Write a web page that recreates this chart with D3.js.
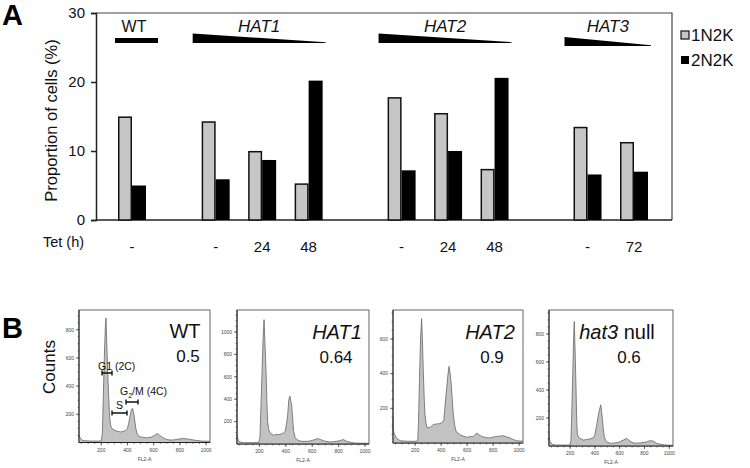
<!DOCTYPE html>
<html><head><meta charset="utf-8">
<script src="https://cdn.jsdelivr.net/npm/d3@7"></script>
<style>
html,body{margin:0;padding:0;background:#fff;}
svg{display:block;font-family:Arial,"Liberation Sans",sans-serif;}
</style></head>
<body>
<svg id="chart" width="750" height="468"></svg>
<script>
// ---------------- DATA ----------------
const categories = ["WT -","HAT1 -","HAT1 24","HAT1 48","HAT2 -","HAT2 24","HAT2 48","HAT3 -","HAT3 72"];
const categoryGroup = ["WT","HAT1","HAT1","HAT1","HAT2","HAT2","HAT2","HAT3","HAT3"];
const tetLabels = ["-","-","24","48","-","24","48","-","72"];
const values1N2K = [14.9,14.2,9.9,5.2,17.7,15.4,7.3,13.4,11.2];
const values2N2K = [5.0,5.9,8.7,20.2,7.2,10.0,20.6,6.6,7.0];
const seriesNames = ["1N2K","2N2K"];
const yTicksA = [0,10,20,30];
const groupNames = ["WT","HAT1","HAT2","HAT3"];

// FACS histograms: [FL2-A channel, counts]
const histWT = [[30,50],[40,30],[55,16],[80,12],[130,10],[180,10],[200,12],[208,60],[215,300],[222,560],[230,800],[236,883],[242,700],[250,480],[258,290],[265,170],[272,120],[280,100],[300,88],[320,80],[345,75],[365,78],[385,85],[400,100],[410,140],[420,190],[430,230],[437,242],[445,220],[453,175],[462,110],[472,65],[490,42],[520,36],[550,33],[580,38],[605,50],[630,64],[645,52],[665,38],[695,22],[730,17],[770,20],[800,26],[830,28],[860,25],[890,20],[930,14],[970,10],[1030,8]];
const histHAT1 = [[30,84],[35,60],[40,30],[55,18],[80,12],[150,12],[195,14],[204,60],[212,350],[220,650],[228,950],[235,1110],[242,900],[250,650],[256,400],[262,200],[270,130],[280,100],[305,78],[325,85],[345,84],[368,90],[385,100],[395,115],[405,180],[414,263],[423,400],[431,427],[438,380],[444,352],[452,220],[459,113],[470,60],[482,40],[500,30],[520,24],[570,24],[600,32],[621,40],[646,48],[665,38],[684,30],[710,22],[734,18],[760,20],[785,24],[810,30],[835,40],[861,24],[899,12],[950,7],[1030,6]];
const histHAT2 = [[30,144],[32,77],[38,58],[55,29],[85,13],[140,10],[200,10],[220,12],[226,120],[234,380],[242,600],[250,717],[256,600],[263,413],[270,260],[276,163],[285,110],[294,87],[315,90],[340,106],[366,110],[390,112],[404,115],[414,125],[422,135],[432,230],[443,317],[452,390],[461,442],[468,410],[476,356],[485,260],[494,163],[505,100],[515,67],[545,48],[570,40],[597,33],[620,36],[648,38],[674,58],[690,48],[712,38],[735,33],[763,29],[795,33],[827,38],[855,40],[879,42],[905,35],[930,29],[955,20],[981,13],[1030,10]];
const histHat3 = [[30,66],[38,31],[55,12],[80,7],[150,7],[200,7],[207,40],[214,250],[222,520],[228,760],[234,889],[240,700],[248,407],[253,200],[258,90],[268,62],[280,54],[307,42],[327,45],[347,49],[368,52],[388,59],[400,80],[414,148],[424,200],[433,242],[447,294],[454,250],[460,195],[468,120],[476,66],[485,45],[495,31],[515,22],[535,19],[560,22],[589,26],[610,34],[629,42],[656,54],[670,46],[683,35],[700,26],[724,19],[760,22],[804,26],[825,32],[844,38],[871,35],[898,19],[930,12],[965,7],[1030,5]];
const histTitles = ["WT","HAT1","HAT2","hat3"];
const histRatios = ["0.5","0.64","0.9","0.6"];
const histYMax = [940,1196,767,971];
const histXTicks = [200,400,600,800,1000];

// ---------------- DRAW ----------------
const svg = d3.select("#chart");
const font = 'Arial,"Liberation Sans",sans-serif';

svg.append("text").attr("x",2).attr("y",25).attr("font-size",29).attr("font-weight","bold").text("A");
svg.append("text").attr("x",2).attr("y",338).attr("font-size",29).attr("font-weight","bold").text("B");

// ===== Panel A =====
const plotL = 96, plotR = 672, plotT = 13, plotB = 220;
const y = d3.scaleLinear().domain([0,30]).range([plotB,plotT]);
const groupGap = {WT:0, HAT1:0.8, HAT2:1.8, HAT3:2.8};
const slots = categories.map((c,i)=> i + groupGap[categoryGroup[i]]);
const x = d3.scaleLinear().domain([0,10.8]).range([132,634]);
const barW = 14;

const gA = svg.append("g");
gA.append("path").attr("d",`M${plotL},${plotT}H${plotR}V${plotB}`).attr("fill","none").attr("stroke","#444").attr("stroke-width",1.2);
gA.append("line").attr("x1",plotL).attr("x2",plotR).attr("y1",plotB).attr("y2",plotB).attr("stroke","#222").attr("stroke-width",1.5);

const yAxis = d3.axisLeft(y).tickValues(yTicksA).tickSize(5).tickPadding(6);
const ya = gA.append("g").attr("transform",`translate(${plotL},0)`).call(yAxis);
ya.select(".domain").attr("stroke","#222").attr("stroke-width",1.5);
ya.selectAll(".tick line").attr("stroke","#222").attr("stroke-width",1.5);
ya.selectAll(".tick text").attr("font-size",15).attr("font-family",font).attr("fill","#111");

gA.append("text").attr("transform",`translate(57,${(plotT+plotB)/2+4}) rotate(-90)`)
  .attr("text-anchor","middle").attr("font-size",16.5).attr("fill","#111").text("Proportion of cells (%)");

const bars = gA.append("g");
bars.selectAll("rect.g1").data(values1N2K).join("rect")
  .attr("x",(d,i)=>x(slots[i])-barW+0.75).attr("width",barW-1.5)
  .attr("y",d=>y(d)).attr("height",d=>plotB-y(d))
  .attr("fill","#c6c6c6").attr("stroke","#111").attr("stroke-width",1.5);
bars.selectAll("rect.g2").data(values2N2K).join("rect")
  .attr("x",(d,i)=>x(slots[i])).attr("width",barW)
  .attr("y",d=>y(d)).attr("height",d=>plotB-y(d))
  .attr("fill","#000");

gA.append("text").attr("x",43).attr("y",247).attr("font-size",14.5).attr("fill","#111").text("Tet (h)");
gA.selectAll("text.tet").data(tetLabels).join("text")
  .attr("x",(d,i)=>x(slots[i])).attr("y",252).attr("text-anchor","middle")
  .attr("font-size",15).attr("fill","#111").text(d=>d);

groupNames.forEach(gn=>{
  const idx = categoryGroup.map((g,i)=>g===gn?i:-1).filter(i=>i>=0);
  const first = x(slots[idx[0]]), last = x(slots[idx[idx.length-1]]);
  let left, right, cx;
  if (gn==="WT"){
    left = first-17; right = first+26;
    gA.append("rect").attr("x",left).attr("y",38).attr("width",right-left).attr("height",5).attr("fill","#000");
    cx = first+2;
  } else {
    left = first-23; right = last+17;
    const topY = gn==="HAT3"?37:33.5, botY = gn==="HAT3"?46:43;
    gA.append("path").attr("d",`M${left},${topY}L${right},${botY-0.8}L${right},${botY}L${left},${botY}Z`).attr("fill","#000");
    cx = (left+right)/2;
  }
  gA.append("text").attr("x",cx).attr("y",32).attr("text-anchor","middle").attr("font-size",gn==="WT"?16:17)
    .attr("font-style",gn==="WT"?"normal":"italic").attr("fill","#111").text(gn);
});

const leg = gA.append("g");
seriesNames.forEach((s,i)=>{
  const ly = 35 + i*25;
  leg.append("rect").attr("x",681).attr("y",ly-4).attr("width",8).attr("height",8)
    .attr("fill",i===0?"#c6c6c6":"#000").attr("stroke",i===0?"#111":"none").attr("stroke-width",1.2);
  leg.append("text").attr("x",691).attr("y",ly+6).attr("font-size",17).attr("fill","#111").text(s);
});

// ===== Panel B =====
svg.append("text").attr("transform","translate(55,367) rotate(-90)").attr("text-anchor","middle")
  .attr("font-size",17).attr("fill","#111").text("Counts");

const panels = [
  {l:79,r:210,t:310,b:442.5,data:histWT},
  {l:237,r:369,t:310,b:444,data:histHAT1},
  {l:393,r:523,t:310,b:443,data:histHAT2},
  {l:549,r:673,t:310,b:446,data:histHat3}
];
panels.forEach((p,k)=>{
  const g = svg.append("g");
  const hx = d3.scaleLinear().domain([30,1030]).range([p.l,p.r]);
  const hy = d3.scaleLinear().domain([0,histYMax[k]]).range([p.b,p.t]);
  g.append("rect").attr("x",p.l).attr("y",p.t).attr("width",p.r-p.l).attr("height",p.b-p.t)
    .attr("fill","#fff").attr("stroke","#555").attr("stroke-width",0.9);
  const area = d3.area().x(d=>hx(d[0])).y0(p.b).y1(d=>hy(d[1]));
  const line = d3.line().x(d=>hx(d[0])).y(d=>hy(d[1]));
  g.append("path").datum(p.data).attr("d",area).attr("fill","#c2c2c2");
  g.append("path").datum(p.data).attr("d",line).attr("fill","none").attr("stroke","#666").attr("stroke-width",0.8);
  const yMajor = d3.range(200,histYMax[k],200);
  const yMinor = d3.range(50,histYMax[k],50);
  g.selectAll("line.ymin").data(yMinor).join("line").attr("x1",p.l-1.5).attr("x2",p.l).attr("y1",d=>hy(d)).attr("y2",d=>hy(d)).attr("stroke","#333").attr("stroke-width",0.6);
  g.selectAll("line.ymaj").data(yMajor).join("line").attr("x1",p.l-3).attr("x2",p.l).attr("y1",d=>hy(d)).attr("y2",d=>hy(d)).attr("stroke","#333").attr("stroke-width",0.7);
  g.selectAll("text.yl").data(yMajor).join("text").attr("x",p.l-5).attr("y",d=>hy(d)+1.8).attr("text-anchor","end")
    .attr("font-size",5).attr("fill","#444").text(d=>d);
  const xMinor = d3.range(50,1030,50);
  g.selectAll("line.xmin").data(xMinor).join("line").attr("x1",d=>hx(d)).attr("x2",d=>hx(d)).attr("y1",p.b).attr("y2",p.b+1.5).attr("stroke","#333").attr("stroke-width",0.6);
  g.selectAll("line.xmaj").data(histXTicks).join("line").attr("x1",d=>hx(d)).attr("x2",d=>hx(d)).attr("y1",p.b).attr("y2",p.b+3).attr("stroke","#333").attr("stroke-width",0.7);
  g.selectAll("text.xl").data(histXTicks).join("text").attr("x",d=>hx(d)).attr("y",p.b+9).attr("text-anchor","middle")
    .attr("font-size",5).attr("fill","#444").text(d=>d);
  g.append("line").attr("x1",p.l).attr("x2",p.r).attr("y1",p.b).attr("y2",p.b).attr("stroke","#222").attr("stroke-width",1);
  g.append("line").attr("x1",p.l).attr("x2",p.l).attr("y1",p.t).attr("y2",p.b).attr("stroke","#222").attr("stroke-width",1);
  g.append("text").attr("x",(p.l+p.r)/2).attr("y",p.b+18).attr("text-anchor","middle").attr("font-size",5).attr("fill","#444").text("FL2-A");
});

const titlePos = [[185,338],[337,339],[490,339],[617,339]];
const ratioPos = [[188,362],[336,363],[492,363],[629,363]];
histTitles.forEach((t,k)=>{
  const tt = svg.append("text").attr("x",titlePos[k][0]).attr("y",titlePos[k][1]).attr("text-anchor","middle")
    .attr("font-size",20).attr("fill","#111");
  if (t==="WT") tt.text("WT");
  else if (t==="hat3"){ tt.append("tspan").attr("font-style","italic").text("hat3"); tt.append("tspan").text(" null"); }
  else tt.attr("font-style","italic").text(t);
  svg.append("text").attr("x",ratioPos[k][0]).attr("y",ratioPos[k][1]).attr("text-anchor","middle")
    .attr("font-size",17).attr("fill","#111").text(histRatios[k]);
});

function bracket(x1,x2,yy){
  svg.append("path").attr("d",`M${x1},${yy-2.5}V${yy+2.5}M${x1},${yy}H${x2}M${x2},${yy-2.5}V${yy+2.5}`)
    .attr("fill","none").attr("stroke","#111").attr("stroke-width",1.4);
}
svg.append("text").attr("x",98).attr("y",370).attr("font-size",10.5).attr("fill","#111").text("G1 (2C)");
bracket(102,112,373);
const g2t = svg.append("text").attr("x",120).attr("y",395).attr("font-size",10.5).attr("fill","#111");
g2t.append("tspan").text("G");
g2t.append("tspan").attr("font-size",7).attr("dy",3).text("2");
g2t.append("tspan").attr("dy",-3).text("/M (4C)");
bracket(126,138,402);
svg.append("text").attr("x",116).attr("y",409).attr("font-size",10.5).attr("fill","#111").text("S");
bracket(112,127,413);
</script>
</body></html>
